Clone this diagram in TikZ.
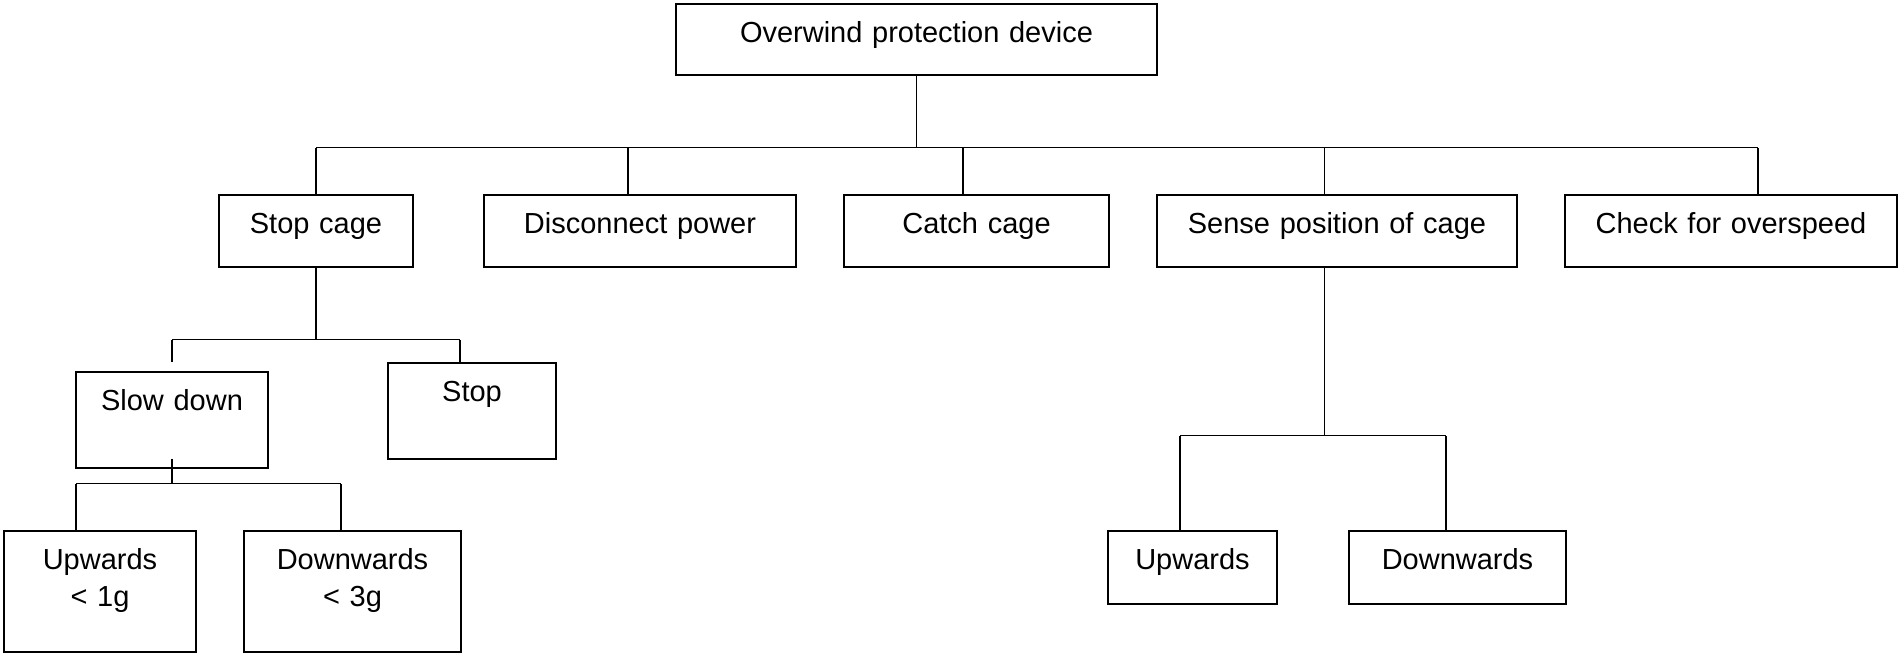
\documentclass[tikz,border=0pt]{standalone}
\usepackage{fontspec}
\setmainfont{Liberation Sans}

\tikzset{box/.style={shape=rectangle,draw=black,line width=1.3pt,inner sep=0pt,align=center,text height=38pt}}

\begin{document}
\begin{tikzpicture}[x=1pt,y=-1pt,line width=1.3pt,font=\fontsize{29}{37}\selectfont]
  \useasboundingbox (0,0) rectangle (1899,653);

  \node[box,text width=481pt,text depth=33pt] (protection) at (916.5,39.5) {Overwind protection device};

  \node[box,text width=194pt,text depth=34pt] (stopCage) at (316,231) {Stop cage};
  \node[box,text width=312pt,text depth=34pt] (disconnectPower) at (640,231) {Disconnect power};
  \node[box,text width=265pt,text depth=34pt] (catchCage) at (976.5,231) {Catch cage};
  \node[box,text width=360pt,text depth=34pt] (sensePosition) at (1337,231) {Sense position of cage};
  \node[box,text width=332pt,text depth=34pt] (checkOverspeed) at (1731,231) {Check for overspeed};

  \node[box,text width=192pt,text depth=58pt] (slowDown) at (172,420) {Slow down};
  \node[box,text width=168pt,text depth=58pt] (stop) at (472,411) {Stop};

  \node[box,text width=192pt,text depth=83pt] (slowUpwards) at (100,591.5) {Upwards\\< 1g};
  \node[box,text width=217pt,text depth=83pt] (slowDownwards) at (352.5,591.5) {Downwards\\< 3g};

  \node[box,text width=169pt,text depth=35pt] (senseUpwards) at (1192.5,567.5) {Upwards};
  \node[box,text width=217pt,text depth=35pt] (senseDownwards) at (1457.5,567.5) {Downwards};

  % first level
  \draw (protection.south) -- ++(0,72) coordinate (busA);
  \draw (stopCage.north |- busA) -- ([xshift=27pt]checkOverspeed.north |- busA);
  \draw (stopCage.north) -- (stopCage.north |- busA);
  \draw ([xshift=-12pt]disconnectPower.north) -- ([xshift=-12pt]disconnectPower.north |- busA);
  \draw ([xshift=-13.5pt]catchCage.north) -- ([xshift=-13.5pt]catchCage.north |- busA);
  \draw ([xshift=-12.5pt]sensePosition.north) -- ([xshift=-12.5pt]sensePosition.north |- busA);
  \draw ([xshift=27pt]checkOverspeed.north) -- ([xshift=27pt]checkOverspeed.north |- busA);

  % stop cage
  \draw (stopCage.south) -- ++(0,72) coordinate (busB);
  \draw (slowDown.north |- busB) -- ([xshift=-12pt]stop.north |- busB);
  \draw (slowDown.north |- busB) -- ([yshift=9pt]slowDown.north);
  \draw ([xshift=-12pt]stop.north) -- ([xshift=-12pt]stop.north |- busB);

  % slow down
  \draw ([yshift=10pt]slowDown.south) -- ++(0,25) coordinate (busC);
  \draw ([xshift=-24pt]slowUpwards.north |- busC) -- ([xshift=-11.5pt]slowDownwards.north |- busC);
  \draw ([xshift=-24pt]slowUpwards.north) -- ([xshift=-24pt]slowUpwards.north |- busC);
  \draw ([xshift=-11.5pt]slowDownwards.north) -- ([xshift=-11.5pt]slowDownwards.north |- busC);

  % sense position
  \draw ([xshift=-12.5pt]sensePosition.south) -- ++(0,168) coordinate (busD);
  \draw ([xshift=-12.5pt]senseUpwards.north |- busD) -- ([xshift=-11.5pt]senseDownwards.north |- busD);
  \draw ([xshift=-12.5pt]senseUpwards.north) -- ([xshift=-12.5pt]senseUpwards.north |- busD);
  \draw ([xshift=-11.5pt]senseDownwards.north) -- ([xshift=-11.5pt]senseDownwards.north |- busD);
\end{tikzpicture}
\end{document}
